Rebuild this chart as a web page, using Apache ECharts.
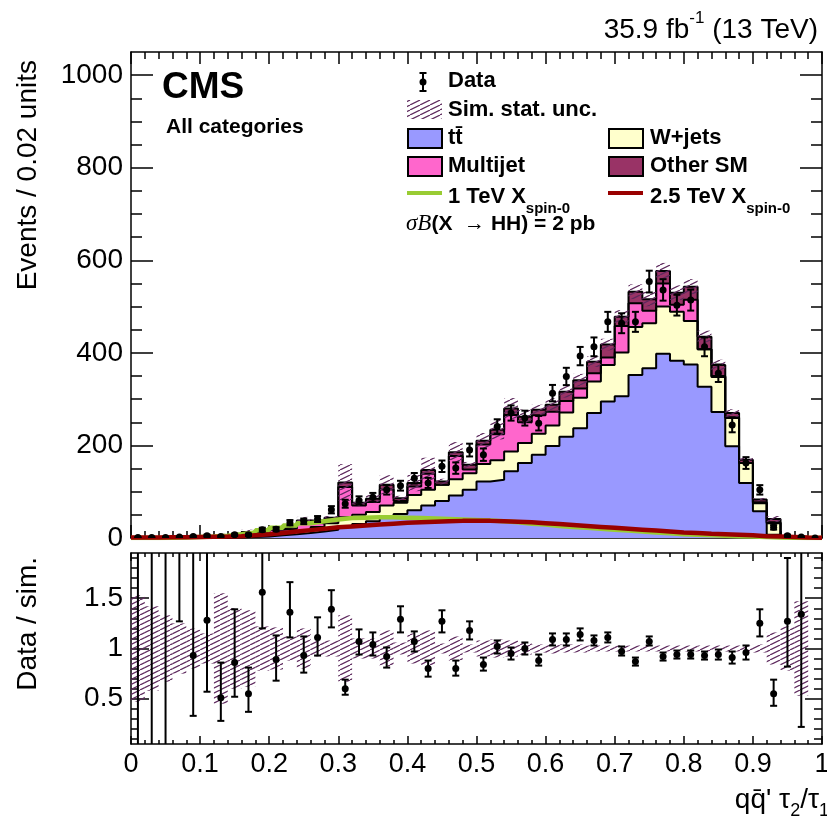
<!DOCTYPE html>
<html>
<head>
<meta charset="utf-8">
<title>qq' tau2/tau1 - all categories</title>
<script src="https://cdn.jsdelivr.net/npm/echarts@6/dist/echarts.min.js"></script>
<style>
    html, body { margin: 0; padding: 0; background: #ffffff; }
    #chart { width: 827px; height: 819px; }
</style>
</head>
<body>
<div id="chart"></div>
<script>
// 50 bins of width 0.02 on [0, 1]
var binWidth = 0.02;
var nBins = 50;

// stacked backgrounds (events per bin)
var ttbar = [0, 0, 0, 0, 0.2, 0.3, 0.5, 1, 2, 3,
    6, 8, 11, 14, 18, 24, 30, 36, 44, 52,
    60, 70, 80, 92, 104, 122, 126, 144, 162, 180,
    199, 219, 237, 270, 295, 306, 352, 367, 398, 383,
    375, 327, 272, 198, 119, 58, 7, 1, 0.5, 0];
var wjets = [0.2, 0.2, 0.2, 0.2, 0.5, 0.5, 1, 1, 2, 2,
    4, 6, 7, 10, 14, 21, 20, 20, 26, 24,
    33, 34, 35, 35, 36, 38, 42, 43, 43, 45,
    44, 52, 66, 68, 79, 95, 104, 97, 102, 106,
    94, 81, 76, 61, 43, 17, 25, 1, 0.5, 0.3];
var multijet = [0, 0, 0, 0, 0, 0, 0, 1, 4, 3,
    8, 6, 15, 8, 6, 65, 20, 22, 35, 4,
    18, 35, 0, 50, 8, 42, 56, 79, 45, 40,
    30, 25, 20, 18, 16, 57, 51, 27, 50, 15,
    46, 0, 2, 2, 0, 2, 2, 0.5, 0, 0];
var otherSM = [0.3, 0.3, 0.25, 0.7, 2.5, 3.2, 4.5, 5, 5, 4,
    3, 4, 5, 5, 6, 10, 6, 7, 10, 6,
    8, 8, 7, 8, 10, 8, 10, 14, 12, 12,
    15, 20, 18, 25, 28, 20, 25, 25, 27, 26,
    28, 27, 24, 9, 7, 6, 7, 1.5, 0.5, 0.2];

// signals, sigma*B = 2 pb
var sig1TeV = [0, 0, 0.5, 1, 2, 3, 5, 8, 12, 17,
    22, 27, 32, 36, 40, 43, 44, 45, 45, 44,
    43, 42, 41, 40, 39, 38, 36, 34, 31, 29,
    26, 24, 22, 20, 18, 16, 14, 12, 10, 8,
    7, 6, 5, 4, 3, 2, 1, 0.5, 0, 0];
var sig25TeV = [1, 1, 1.5, 1.5, 2, 2.5, 3, 4, 6, 8,
    11, 14, 17, 20, 23, 25, 27, 29, 31, 33,
    34, 35, 36, 37, 37, 37, 36, 35, 34, 32,
    30, 28, 26, 24, 22, 20, 18, 16, 14, 12,
    11, 9, 8, 7, 6, 4, 3, 2, 1, 0.5];

// data
var dataVals = [1, 1, 1, 2, 3, 5, 3, 7, 7, 18,
    19, 33, 36, 41, 61, 74, 81, 88, 104, 113,
    129, 119, 155, 151, 190, 180, 241, 270, 259, 248,
    313, 349, 393, 413, 467, 464, 467, 554, 536, 503,
    514, 413, 356, 244, 162, 104, 23, 5, 2, 0];
var dataErr = [1, 1, 1, 1.4, 1.7, 2.2, 1.7, 2.6, 2.6, 4.2,
    4.4, 5.7, 6, 6.4, 7.8, 8.6, 9, 9.4, 10.2, 10.6,
    11.4, 10.9, 12.4, 12.3, 13.8, 13.4, 15.5, 16.4, 16.1, 15.7,
    17.7, 18.7, 19.8, 20.3, 21.6, 21.5, 21.6, 23.5, 23.2, 22.4,
    22.7, 20.3, 18.9, 15.6, 12.7, 10.2, 4.8, 2.2, 1.4, 0];

// relative simulation stat. uncertainty
var simRelUnc = [0.53, 0.42, 0.33, 0.25, 0.2, 0.15, 0.55, 0.4, 0.38, 0.22,
    0.21, 0.12, 0.2, 0.08, 0.08, 0.33, 0.1, 0.1, 0.18, 0.06,
    0.15, 0.18, 0.05, 0.12, 0.04, 0.08, 0.09, 0.08, 0.06, 0.04,
    0.05, 0.04, 0.04, 0.03, 0.03, 0.03, 0.03, 0.03, 0.03, 0.03,
    0.03, 0.03, 0.03, 0.03, 0.03, 0.04, 0.16, 0.22, 0.47, 0];

// data / sim ratio with error bar ends
var ratio = [2.5, 2.5, 2.5, 2.3, 0.93, 1.28, 0.51, 0.86, 0.55, 1.56,
    0.89, 1.36, 0.93, 1.11, 1.39, 0.60, 1.07, 1.04, 0.92, 1.29,
    1.07, 0.80, 1.27, 0.80, 1.18, 0.84, 1.02, 0.95, 1.00, 0.88,
    1.09, 1.09, 1.14, 1.08, 1.11, 0.97, 0.87, 1.07, 0.92, 0.94,
    0.94, 0.93, 0.94, 0.91, 0.96, 1.25, 0.55, 1.27, 1.34, null];
var ratioLow = [0, 0, 0, 1.27, 0.33, 0.57, 0.28, 0.52, 0.37, 1.2,
    0.68, 1.11, 0.76, 0.93, 1.21, 0.54, 0.94, 0.93, 0.81, 1.16,
    0.97, 0.72, 1.16, 0.73, 1.09, 0.78, 0.95, 0.89, 0.94, 0.83,
    1.03, 1.03, 1.08, 1.03, 1.06, 0.93, 0.83, 1.03, 0.88, 0.90,
    0.90, 0.89, 0.89, 0.85, 0.89, 1.12, 0.43, 0.82, 0.22, null];
var ratioHigh = [5, 5, 5, 4, 2.2, 2.4, 0.86, 1.39, 0.81, 2.0,
    1.13, 1.66, 1.12, 1.31, 1.58, 0.69, 1.19, 1.16, 1.01, 1.42,
    1.17, 0.88, 1.38, 0.88, 1.27, 0.91, 1.08, 1.01, 1.06, 0.94,
    1.15, 1.15, 1.20, 1.13, 1.16, 1.02, 0.91, 1.12, 0.96, 0.98,
    0.98, 0.97, 0.99, 0.97, 1.03, 1.39, 0.69, 1.90, 3.0, null];

// tick values
var yTicksMain = [0, 200, 400, 600, 800, 1000];
var yMinorMain = [50, 100, 150, 250, 300, 350, 450, 500, 550, 650, 700, 750, 850, 900, 950];
var yTicksRatio = [0.5, 1, 1.5];
var yMinorRatio = [0.1, 0.2, 0.3, 0.4, 0.6, 0.7, 0.8, 0.9, 1.1, 1.2, 1.3, 1.4, 1.6, 1.7, 1.8, 1.9];

var F = "'Liberation Sans', Arial, Helvetica, sans-serif";
var colTt = '#9999ff', colW = '#ffffcc', colMj = '#ff66cc', colOther = '#993366';
var colSig1 = '#99cc33', colSig2 = '#990000';
var ratioMin = 0.05, ratioMax = 1.95;

var binLow = [];
for (var k = 0; k < nBins; k++) binLow.push(+(k * binWidth).toFixed(2));

var cumW = [], cumMj = [], total = [];
for (var k = 0; k < nBins; k++) {
    cumW.push(ttbar[k] + wjets[k]);
    cumMj.push(cumW[k] + multijet[k]);
    total.push(cumMj[k] + otherSM[k]);
}

function stepData(vals) {
    var d = [];
    for (var i = 0; i < nBins; i++) d.push([binLow[i], vals[i]]);
    d.push([1, vals[nBins - 1]]);
    return d;
}

// hatch pattern "///"
function makeHatch() {
    var c = document.createElement('canvas');
    c.width = 10; c.height = 5;
    var ctx = c.getContext('2d');
    ctx.strokeStyle = '#5e2a5e';
    ctx.lineWidth = 1.2;
    for (var s = -1; s <= 1; s++) {
        ctx.beginPath();
        ctx.moveTo(s * 10, 5);
        ctx.lineTo(s * 10 + 10, 0);
        ctx.stroke();
    }
    return c;
}
var hatch = {image: makeHatch(), repeat: 'repeat'};

function areaSeries(vals, color) {
    return {
        type: 'line', xAxisIndex: 0, yAxisIndex: 0, step: 'end', symbol: 'none',
        data: stepData(vals), lineStyle: {color: '#000', width: 2},
        areaStyle: {color: color, opacity: 1}, z: 2, silent: true
    };
}
function sigSeries(vals, color) {
    return {
        type: 'line', xAxisIndex: 0, yAxisIndex: 0, step: 'end', symbol: 'none',
        data: stepData(vals), lineStyle: {color: color, width: 4.5}, z: 4, silent: true
    };
}

var hatchMain = [], hatchRatio = [], dataPts = [], ratioPts = [];
for (var k = 0; k < nBins; k++) {
    hatchMain.push([binLow[k], total[k], simRelUnc[k]]);
    hatchRatio.push([binLow[k], 1, simRelUnc[k]]);
    dataPts.push([binLow[k] + binWidth / 2, dataVals[k], dataErr[k]]);
    if (ratio[k] != null) ratioPts.push([binLow[k] + binWidth / 2, ratio[k], ratioLow[k], ratioHigh[k]]);
}

function renderHatch(params, api) {
    var x0 = api.value(0), t = api.value(1), u = api.value(2);
    if (!(t > 0) || !(u > 0)) return;
    var lo = Math.max(t * (1 - u), 0), hi = t * (1 + u);
    if (params.seriesIndex === 8) { lo = Math.max(lo, ratioMin); hi = Math.min(hi, ratioMax); }
    var p1 = api.coord([x0, hi]);
    var p2 = api.coord([x0 + binWidth, lo]);
    return {type: 'rect', shape: {x: p1[0], y: p1[1], width: p2[0] - p1[0], height: p2[1] - p1[1]},
        style: {fill: hatch}};
}

function errBar(cx, pv, pLo, pHi, capLo, capHi, showDot) {
    var ch = [];
    var st = {stroke: '#000', lineWidth: 2};
    ch.push({type: 'line', shape: {x1: cx, y1: pLo, x2: cx, y2: pHi}, style: st});
    if (capLo) ch.push({type: 'line', shape: {x1: cx - 3.5, y1: pLo, x2: cx + 3.5, y2: pLo}, style: st});
    if (capHi) ch.push({type: 'line', shape: {x1: cx - 3.5, y1: pHi, x2: cx + 3.5, y2: pHi}, style: st});
    if (showDot) ch.push({type: 'circle', shape: {cx: cx, cy: pv, r: 3.5}, style: {fill: '#000'}});
    return ch;
}

function renderData(params, api) {
    var x = api.value(0), v = api.value(1), e = api.value(2);
    var pv = api.coord([x, v]);
    var ch = [];
    if (e > 0) {
        var pl = api.coord([x, Math.max(v - e, 0)]), ph = api.coord([x, v + e]);
        ch = errBar(pv[0], pv[1], pl[1], ph[1], true, true, true);
    } else {
        ch.push({type: 'circle', shape: {cx: pv[0], cy: pv[1], r: 3.5}, style: {fill: '#000'}});
    }
    return {type: 'group', children: ch};
}

function renderRatio(params, api) {
    var x = api.value(0), v = api.value(1), lo = api.value(2), hi = api.value(3);
    var loC = Math.max(lo, ratioMin), hiC = Math.min(hi, ratioMax);
    var pl = api.coord([x, loC]), ph = api.coord([x, hiC]), pv = api.coord([x, v]);
    var inside = v >= ratioMin && v <= ratioMax;
    return {type: 'group', children: errBar(pv[0], pv[1], pl[1], ph[1], lo >= ratioMin, hi <= ratioMax, inside)};
}

function plainNum(v) { return String(v); }

function xAxisCfg(grid, pos, len, minLen, labels) {
    return {
        gridIndex: grid, type: 'value', min: 0, max: 1, interval: 0.1, position: pos,
        axisLine: {show: true, onZero: false, lineStyle: {color: '#000', width: 1.5}},
        axisTick: {show: true, inside: true, length: len, lineStyle: {color: '#000', width: 1.5}},
        minorTick: {show: true, splitNumber: 5, length: minLen, lineStyle: {color: '#000', width: 1.5}},
        axisLabel: {show: labels, color: '#000', fontSize: 27, fontFamily: F, margin: 7},
        splitLine: {show: false}, minorSplitLine: {show: false}
    };
}
function yAxisCfg(grid, pos, mn, mx, ticks, len, line, labels) {
    return {
        gridIndex: grid, type: 'value', min: mn, max: mx, position: pos,
        axisLine: {show: line, onZero: false, lineStyle: {color: '#000', width: 1.5}},
        axisTick: {show: true, inside: true, length: len, customValues: ticks, lineStyle: {color: '#000', width: 1.5}},
        axisLabel: {show: labels, customValues: ticks, formatter: plainNum, color: '#000',
            fontSize: 28, fontFamily: F, margin: 8},
        splitLine: {show: false}
    };
}

function txt(x, y, text, opt) {
    var st = {text: text, x: 0, y: 0, fill: '#000', fontFamily: F, fontSize: 22, fontWeight: 'bold',
        align: 'left', verticalAlign: 'middle'};
    for (var key in opt) st[key] = opt[key];
    return {type: 'text', x: x, y: y, style: st, z: 20};
}
function box(x, y, color) {
    return {type: 'rect', shape: {x: x, y: y, width: 34, height: 19},
        style: {fill: color, stroke: '#000', lineWidth: 2}, z: 20};
}
var subRich = function (size) {
    return {
        b: {fontSize: size, fontWeight: 'bold', fontFamily: F, lineHeight: 38},
        s: {fontSize: 15, fontWeight: 'bold', fontFamily: F, lineHeight: 15, verticalAlign: 'bottom'}
    };
};

var graphics = [
    txt(818, 30, '{m|35.9 fb}{s|-1}{m| (13 TeV)}', {align: 'right', fontWeight: 'normal',
        rich: {m: {fontSize: 28, lineHeight: 40, fontFamily: F},
               s: {fontSize: 17, lineHeight: 17, fontFamily: F, verticalAlign: 'top'}}}),
    txt(162, 88, 'CMS', {fontSize: 37}),
    txt(166, 127, 'All categories', {fontSize: 21}),
    // legend
    {type: 'line', shape: {x1: 423, y1: 73, x2: 423, y2: 91}, style: {stroke: '#000', lineWidth: 2}, z: 20},
    {type: 'line', shape: {x1: 419.5, y1: 73, x2: 426.5, y2: 73}, style: {stroke: '#000', lineWidth: 2}, z: 20},
    {type: 'line', shape: {x1: 419.5, y1: 91, x2: 426.5, y2: 91}, style: {stroke: '#000', lineWidth: 2}, z: 20},
    {type: 'circle', shape: {cx: 423, cy: 82, r: 3.5}, style: {fill: '#000'}, z: 20},
    txt(448, 81, 'Data'),
    {type: 'rect', shape: {x: 407, y: 100, width: 35, height: 19}, style: {fill: hatch}, z: 20},
    txt(448, 110, 'Sim. stat. unc.'),
    box(408, 129, colTt), txt(448, 138, 'tt\u0304'),
    box(609, 129, colW), txt(650, 138, 'W+jets'),
    box(408, 157, colMj), txt(448, 166, 'Multijet'),
    box(609, 157, colOther), txt(650, 166, 'Other SM'),
    {type: 'line', shape: {x1: 407, y1: 193, x2: 442, y2: 193}, style: {stroke: colSig1, lineWidth: 4}, z: 20},
    txt(448, 197, '{b|1 TeV X}{s|spin-0}', {rich: subRich(22)}),
    {type: 'line', shape: {x1: 608, y1: 193, x2: 643, y2: 193}, style: {stroke: colSig2, lineWidth: 4}, z: 20},
    txt(650, 197, '{b|2.5 TeV X}{s|spin-0}', {rich: subRich(22)}),
    txt(406, 224, '{i|\u03c3B}{b|(X  \u2192 HH) = 2 pb}', {rich: {
        i: {fontSize: 23, fontStyle: 'italic', fontWeight: 'normal', fontFamily: "'Liberation Serif', 'Times New Roman', serif"},
        b: {fontSize: 21, fontWeight: 'bold', fontFamily: F}}}),
    // axis titles
    {type: 'text', x: 28, y: 60, rotation: Math.PI / 2, z: 20,
        style: {text: 'Events / 0.02 units', x: 0, y: 0, fill: '#000', fontFamily: F, fontSize: 28,
            align: 'right', verticalAlign: 'middle'}},
    {type: 'text', x: 28, y: 557, rotation: Math.PI / 2, z: 20,
        style: {text: 'Data / sim.', x: 0, y: 0, fill: '#000', fontFamily: F, fontSize: 28,
            align: 'right', verticalAlign: 'middle'}},
    txt(829, 800, "{m|qq\u0304' \u03c4}{s|2}{m|/\u03c4}{s|1}", {align: 'right', fontWeight: 'normal',
        rich: {m: {fontSize: 28, lineHeight: 40, fontFamily: F},
               s: {fontSize: 18, lineHeight: 18, fontFamily: F, verticalAlign: 'bottom'}}})
];

var chart = echarts.init(document.getElementById('chart'), null, {renderer: 'canvas'});
var option = {
    backgroundColor: '#ffffff',
    animation: false,
    grid: [
        {left: 131, top: 52, width: 691, height: 486, outerBoundsMode: 'none'},
        {left: 131, top: 553, width: 691, height: 191, outerBoundsMode: 'none'}
    ],
    xAxis: [
        xAxisCfg(0, 'bottom', 13, 7, false),
        xAxisCfg(0, 'top', 12, 7, false),
        xAxisCfg(1, 'bottom', 8, 4, true),
        xAxisCfg(1, 'top', 8, 4, false)
    ],
    yAxis: [
        yAxisCfg(0, 'left', 0, 1050, yTicksMain, 22, true, true),
        yAxisCfg(0, 'left', 0, 1050, yMinorMain, 11, false, false),
        yAxisCfg(0, 'right', 0, 1050, yTicksMain, 22, true, false),
        yAxisCfg(0, 'right', 0, 1050, yMinorMain, 11, false, false),
        yAxisCfg(1, 'left', ratioMin, ratioMax, yTicksRatio, 18, true, true),
        yAxisCfg(1, 'left', ratioMin, ratioMax, yMinorRatio, 7, false, false),
        yAxisCfg(1, 'right', ratioMin, ratioMax, yTicksRatio, 17, true, false),
        yAxisCfg(1, 'right', ratioMin, ratioMax, yMinorRatio, 8, false, false)
    ],
    series: [
        areaSeries(total, colOther),
        areaSeries(cumMj, colMj),
        areaSeries(cumW, colW),
        areaSeries(ttbar, colTt),
        {type: 'custom', xAxisIndex: 0, yAxisIndex: 0, data: hatchMain, renderItem: renderHatch, z: 3, clip: true, silent: true},
        sigSeries(sig1TeV, colSig1),
        sigSeries(sig25TeV, colSig2),
        {type: 'custom', xAxisIndex: 0, yAxisIndex: 0, data: dataPts, renderItem: renderData, z: 6, clip: true, silent: true},
        {type: 'custom', xAxisIndex: 2, yAxisIndex: 4, data: hatchRatio, renderItem: renderHatch, z: 3, clip: true, silent: true},
        {type: 'custom', xAxisIndex: 2, yAxisIndex: 4, data: ratioPts, renderItem: renderRatio, z: 6, clip: true, silent: true}
    ],
    graphic: graphics
};
chart.setOption(option);
</script>
</body>
</html>
